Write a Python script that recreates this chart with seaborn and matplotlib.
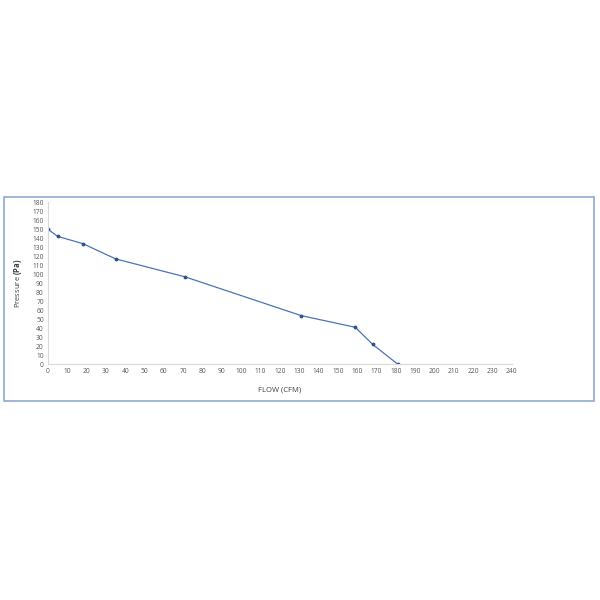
import matplotlib
matplotlib.use("Agg")
import matplotlib.pyplot as plt
import seaborn as sns
import pandas as pd

# Fan curve
flow = [0, 5, 18, 35, 71, 131, 159, 168, 181]
pressure = [150, 142, 134, 117, 97, 54, 41, 22, 0]

x_ticks = list(range(0, 250, 10))
y_ticks = list(range(0, 190, 10))

df = pd.DataFrame({"flow": flow, "pressure": pressure})

sns.set_theme(style="white")
plt.rcParams["font.family"] = ["Open Sans", "DejaVu Sans"]
plt.rcParams["mathtext.fontset"] = "custom"
plt.rcParams["mathtext.bf"] = "Open Sans:bold"

fig = plt.figure(figsize=(6, 6), dpi=100)

# chart frame like the spreadsheet chart area
frame = plt.Rectangle((0.007, 0.332), 0.983, 0.34, transform=fig.transFigure,
                      fill=False, edgecolor="#8EA9D0", linewidth=1.2)
fig.patches.append(frame)

ax = fig.add_axes([0.08, 0.393, 0.773, 0.27])
sns.lineplot(data=df, x="flow", y="pressure", ax=ax, color="#4A74B8",
             linewidth=0.9, marker="o", markersize=2,
             markerfacecolor="#2F4F8A", markeredgecolor="#2F4F8A")

ax.set_xlim(0, 240)
ax.set_ylim(0, 180)
ax.set_xticks(x_ticks)
ax.set_yticks(y_ticks)
ax.tick_params(axis="both", labelsize=4.8, labelcolor="#595959", length=0, pad=3)

for side in ["top", "right"]:
    ax.spines[side].set_visible(False)
for side in ["left", "bottom"]:
    ax.spines[side].set_color("#D9D9D9")
    ax.spines[side].set_linewidth(0.8)

ax.set_xlabel("FLOW (CFM)", fontsize=5.5, color="#404040", labelpad=8)
ax.set_ylabel(r"Pressure $\bf{(Pa)}$", fontsize=5.5, color="#404040", labelpad=6)

fig.savefig("out.png", dpi=100, facecolor="white")
